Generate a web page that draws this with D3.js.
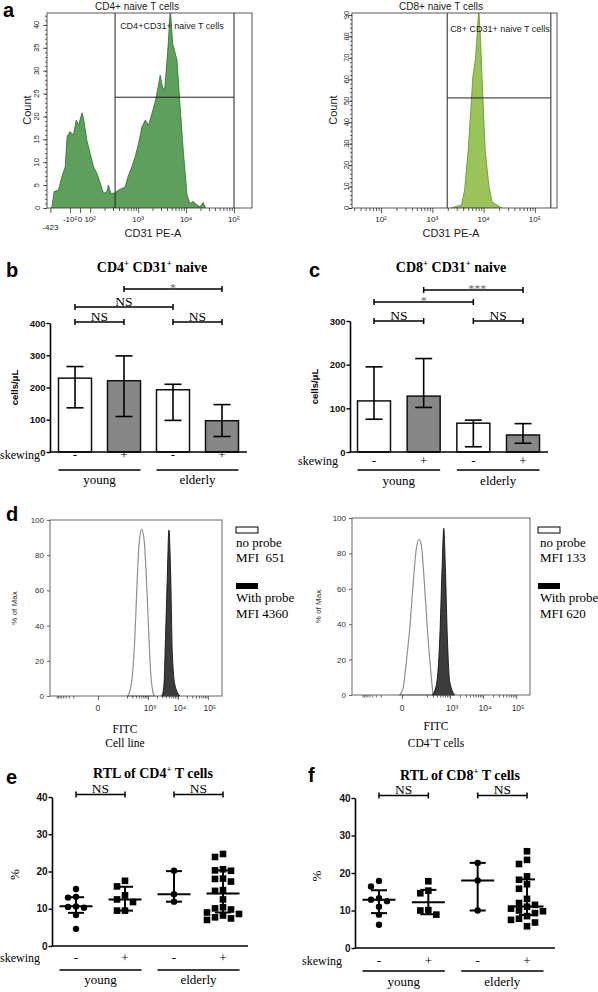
<!DOCTYPE html>
<html><head><meta charset="utf-8">
<script src="https://cdn.jsdelivr.net/npm/d3@7"></script>
<style>body{margin:0;background:#fff}svg{display:block}</style>
</head><body>
<svg id="c" width="598" height="992"></svg>
<script>
// ================= DATA =================
// Panel a: flow cytometry histograms (x = display decade units, y = count)
const cd4HistX = [1.20,1.25,1.34,1.41,1.48,1.52,1.58,1.65,1.71,1.76,1.83,1.86,1.93,2.00,2.07,2.14,2.21,2.28,2.35,2.38,2.43,2.50,2.59,2.73,2.79,2.87,2.94,3.01,3.08,3.15,3.22,3.29,3.35,3.42,3.46,3.52,3.56,3.63,3.67,3.72,3.81,3.88,3.94,4.02,4.08,4.15,4.22,4.29,4.36,4.40];
const cd4HistY = [0,3.6,3.9,6.8,9.0,15.6,16.7,15.9,19.2,18.1,20.8,19.6,14.8,11.9,9.0,7.6,5.4,3.2,3.6,5.0,3.2,3.2,3.9,4.6,6.8,9.0,11.2,14.1,17.7,19.2,18.1,20.7,22.9,26.5,29.0,25.8,26.5,36.0,43.5,36.0,32.3,21.4,12.7,2.8,1.0,1.4,0.7,0.3,1.2,0];
const cd8HistX = [3.38,3.40,3.57,3.63,3.70,3.75,3.79,3.84,3.88,3.905,3.94,3.99,4.03,4.10,4.16,4.23,4.28,4.35];
const cd8HistY = [0,0.3,1.4,8.4,27,45.7,61.2,69,83,93,78.4,48.5,27,10.7,2.9,1.9,1.0,0];
const cd4AxisTicks = [1.17,1.58,1.79,2,3,4,5];
const cd4AxisLabels = ["-423","-10²","0","10²","10³","10⁴","10⁵"];
const cd8AxisTicks = [2,3,4,5];
const cd8AxisLabels = ["10²","10³","10⁴","10⁵"];
const cd4Gate = [2.52, 5.0, 24.2];   // x-from, x-to, count threshold
const cd8Gate = [3.29, 5.31, 51.3];

// Panels b, c: bar charts (cells/µL)
const groups = ["young-","young+","elderly-","elderly+"];
const skewLabels = ["-","+","-","+"];
const ageLabels = ["young","elderly"];
const cd4Mean = [229, 221, 193, 97];
const cd4Hi   = [265, 298, 210, 147];
const cd4Lo   = [137, 110, 98, 48];
const cd8Mean = [117, 128, 66, 39];
const cd8Hi   = [195, 214, 73, 65];
const cd8Lo   = [75, 102, 12, 20];
const cd4Sig = [[0,1,"NS"],[2,3,"NS"],[0,2,"NS"],[1,3,"*"]];
const cd8Sig = [[0,1,"NS"],[2,3,"NS"],[0,2,"*"],[1,3,"***"]];

// Panel d: probe histograms (% of max)
const cellNoX = [2.30,2.344,2.456,2.567,2.644,2.711,2.79,2.867,2.933,3.011,3.089,3.178,3.22];
const cellNoY = [0,0.6,8.1,34.7,66.9,87.7,94.7,89.6,72.6,42.2,13.8,1.5,0];
const cellPrX = [3.45,3.478,3.533,3.589,3.644,3.70,3.756,3.811,3.90,4.067];
const cellPrY = [0,0.6,6.3,34.7,66.9,94.3,70.6,25.2,6.3,0];
const tcNoX = [1.476,1.576,1.676,1.779,1.879,1.979,2.06,2.13,2.212,2.312,2.415,2.485];
const tcNoY = [0,3.8,18.8,37.7,62.1,82.9,88,84.7,65.9,37.7,13.2,0];
const tcPrX = [2.455,2.585,2.688,2.758,2.809,2.858,2.918,2.991,3.142];
const tcPrY = [0,5.6,32,71.6,94.2,71.6,32,7.5,0];
const cellAxisTicks = [1.333,3,4,5];
const tcAxisTicks = [1.545,3,4,5];
const fitcLabels = ["0","10³","10⁴","10⁵"];
const cellMFI = ["651","4360"];
const tcMFI = ["133","620"];

// Panels e, f: RTL scatter (%)
const e1 = [15.3,13.2,13.0,10.6,10.5,10.3,8.3,4.6];
const e2 = [17.5,16.0,13.6,12.5,11.8,9.5,9.5];
const e3 = [20.2,13.9,11.9];
const e4 = [24.7,23.9,20.6,20.3,20.2,18.1,18.0,17.3,15.0,14.8,12.5,10.4,10.1,9.8,9.0,8.6,8.2,7.7,7.4,7.0];
const eMed = [10.7,12.5,13.9,14.1];
const eHi  = [13.1,15.9,20.1,20.3];
const eLo  = [8.9,9.5,11.9,9.0];
const f1 = [17.9,16.4,13.3,12.9,12.5,11.0,8.9,6.2];
const f2 = [17.8,15.3,14.6,10.1,10.0,8.9];
const f3 = [22.7,18.0,10.0];
const f4 = [25.8,23.5,22.4,19.1,18.2,17.0,15.8,13.1,12.0,11.5,11.0,10.5,10.0,9.8,9.3,8.5,7.8,7.5,6.8,5.8];
const fMed = [12.9,12.2,18.0,11.1];
const fHi  = [15.4,15.5,22.7,18.3];
const fLo  = [9.3,9.0,10.0,8.8];
const rtlSig = [[0,1,"NS"],[2,3,"NS"]];

// ================= DRAWING =================
const svg = d3.select("#c");
svg.append("rect").attr("width",598).attr("height",992).attr("fill","#fff");
const defs = svg.append("defs");
const SANS = "'Liberation Sans', Arial, sans-serif";
const SERIF = "'Liberation Serif', 'Times New Roman', serif";

function txt(g, x, y, s, o={}) {
  const t = g.append("text").attr("x",x).attr("y",y).text(s)
    .attr("font-family", o.ff||SANS).attr("font-size", o.fs||10)
    .attr("text-anchor", o.anchor||"middle").attr("fill", o.fill||"#000")
    .style("white-space","pre");
  if (o.bold) t.attr("font-weight","bold");
  if (o.rot) t.attr("transform", `rotate(${o.rot},${x},${y})`);
  return t;
}
function supTxt(g, x, y, parts, o={}) {
  const fs = o.fs||10;
  const t = g.append("text").attr("x",x).attr("y",y)
    .attr("font-family", o.ff||SANS).attr("font-size", fs)
    .attr("text-anchor", o.anchor||"middle").attr("fill","#000").style("white-space","pre");
  if (o.bold) t.attr("font-weight","bold");
  let shifted = false;
  parts.forEach(([s,sup]) => {
    const ts = t.append("tspan").text(s);
    if (sup && !shifted) { ts.attr("dy", -0.42*fs).attr("font-size", fs*0.62); shifted = true; }
    else if (sup) { ts.attr("font-size", fs*0.62); }
    else if (shifted) { ts.attr("dy", 0.42*fs); shifted = false; }
  });
  return t;
}
function line(g,x1,y1,x2,y2,sw=1,c="#000"){
  return g.append("line").attr("x1",x1).attr("y1",y1).attr("x2",x2).attr("y2",y2)
    .attr("stroke",c).attr("stroke-width",sw);
}
function logMinor(decades, lo, hi){
  const out=[];
  decades.forEach(n=>{ for(let k=2;k<=9;k++){ const v=n+Math.log10(k); if(v>lo&&v<hi) out.push(v);} });
  return out;
}

// ---------- panel a ----------
function flow(o){
  const g = svg.append("g");
  const x = d3.scaleLinear().domain(o.xDom).range([o.L,o.R]);
  const y = d3.scaleLinear().domain([0,o.yTop]).range([o.B,o.T]);
  defs.append("clipPath").attr("id",o.id).append("rect")
    .attr("x",o.L).attr("y",o.T).attr("width",o.R-o.L).attr("height",o.B-o.T);
  g.append("path").datum(d3.zip(o.hx,o.hy)).attr("clip-path",`url(#${o.id})`)
    .attr("d", d3.area().x(d=>x(d[0])).y0(y(0)).y1(d=>y(d[1])))
    .attr("fill",o.fill).attr("stroke",o.stroke).attr("stroke-width",0.9);
  line(g,x(o.gate[0]),o.T,x(o.gate[0]),o.B,1,"#222");
  line(g,x(o.gate[1]),o.T,x(o.gate[1]),o.B,1,"#222");
  line(g,x(o.gate[0]),y(o.gate[2]),x(o.gate[1]),y(o.gate[2]),1,"#222");
  g.append("rect").attr("x",o.L).attr("y",o.T).attr("width",o.R-o.L).attr("height",o.B-o.T)
    .attr("fill","none").attr("stroke","#444").attr("stroke-width",0.9);
  const style = s => { s.select(".domain").remove(); s.selectAll(".tick line").attr("stroke","#333").attr("stroke-width",0.8); };
  g.append("g").attr("transform",`translate(${o.L},0)`)
    .call(d3.axisLeft(y).tickValues(d3.range(0,o.yTop,o.yMinor)).tickSize(2).tickFormat("")).call(style);
  const yMaj = d3.range(0,o.yTop,o.yMajor);
  g.append("g").attr("transform",`translate(${o.L},0)`)
    .call(d3.axisLeft(y).tickValues(yMaj).tickSize(4).tickFormat("")).call(style);
  yMaj.forEach(v => txt(g, o.L-o.yLabOff, y(v), String(v), {fs:7.5, rot:-90, fill:"#222"}));
  g.append("g").attr("transform",`translate(0,${o.B})`)
    .call(d3.axisBottom(x).tickValues(o.minor).tickSize(3).tickFormat("")).call(style);
  g.append("g").attr("transform",`translate(0,${o.B})`)
    .call(d3.axisBottom(x).tickValues(o.ticks).tickSize(5).tickFormat("")).call(style);
  o.ticks.forEach((t,i)=> txt(g, x(t), o.B+14+(i===0&&o.lowFirst?8:0), o.labels[i], {fs:8, fill:"#222"}));
  txt(g, o.titleX, 10, o.title, {fs:10, fill:"#222"});
  txt(g, o.gateLabX, o.gateLabY, o.gateLab, {fs:9, fill:"#222"});
  txt(g, o.countX, 110, "Count", {fs:11, rot:-90, fill:"#222"});
  txt(g, (o.L+o.R)/2 + o.xlabShift, 237, "CD31 PE-A", {fs:11, fill:"#222"});
}
flow({id:"ca1", L:47, R:252, T:13, B:208, xDom:[1.10,5.375], yTop:42.6, yMinor:1, yMajor:5,
  hx:cd4HistX, hy:cd4HistY, fill:"#5e9f5c", stroke:"#2f7a34", gate:cd4Gate,
  ticks:cd4AxisTicks, labels:cd4AxisLabels, minor:logMinor([2,3,4],2,5.3), lowFirst:true,
  yLabOff:7.5, title:"CD4+ naive T cells", titleX:137, gateLab:"CD4+CD31+ naive T cells",
  gateLabX:172, gateLabY:29, countX:31, xlabShift:3.5});
flow({id:"ca2", L:352, R:557, T:13, B:208, xDom:[1.435,5.43], yTop:90.9, yMinor:2, yMajor:10,
  hx:cd8HistX, hy:cd8HistY, fill:"#9ac45a", stroke:"#6b9a2f", gate:cd8Gate,
  ticks:cd8AxisTicks, labels:cd8AxisLabels, minor:logMinor([1,2,3,4],1.45,5.4), lowFirst:false,
  yLabOff:3, title:"CD8+ naive T cells", titleX:441, gateLab:"C8+ CD31+ naive T cells",
  gateLabX:500, gateLabY:32, countX:337, xlabShift:-3.5});

// ---------- shared bottom group labels ----------
function groupLabels(g, x, o){
  txt(g, o.skewX, o.skewY, "skewing", {ff:SERIF, fs:12, anchor:"start"});
  groups.forEach((k,i)=> txt(g, x(k), o.skewY, skewLabels[i], {ff:SERIF, fs:13}));
  [[0,1],[2,3]].forEach(([a,b],j)=>{
    const x1 = x(groups[a])-16.5, x2 = x(groups[b])+16.5;
    line(g,x1,o.ulY,x2,o.ulY,1.3);
    txt(g,(x1+x2)/2,o.ageY,ageLabels[j],{ff:SERIF, fs:13});
  });
}
function brackets(g, x, sig, yTop, offs){
  const placed = [];
  const sorted = sig.slice().sort((a,b)=>(a[1]-a[0])-(b[1]-b[0]));
  sorted.forEach(s=>{
    let lev = 0;
    while (placed.some(p=>p.lev===lev && s[0]<p.s[1] && p.s[0]<s[1])) lev++;
    placed.push({s,lev});
    const yy = yTop - offs[lev];
    const x1 = x(groups[s[0]]), x2 = x(groups[s[1]]);
    line(g,x1,yy,x2,yy,1.5); line(g,x1,yy-3,x1,yy+3,1.5); line(g,x2,yy-3,x2,yy+3,1.5);
    if (s[2]==="NS") txt(g,(x1+x2)/2,yy-1.5,"NS",{ff:SERIF, fs:13.5});
    else txt(g,(x1+x2)/2 + (s[2].length>1?4:0),yy+2.5,s[2],{ff:SERIF, fs:12, fill:"#6e6e6e"});
  });
}
function leftAxis(g, y, L, vals, fs){
  const ax = g.append("g").attr("transform",`translate(${L},0)`)
    .call(d3.axisLeft(y).tickValues(vals).tickSize(3.5).tickSizeOuter(0).tickPadding(1));
  ax.select(".domain").attr("stroke-width",1.6);
  ax.selectAll(".tick line").attr("stroke-width",1.4);
  ax.selectAll("text").attr("font-family",SANS).attr("font-weight","bold").attr("font-size",fs).attr("fill","#111");
}

// ---------- panels b, c ----------
function barPanel(o){
  const g = svg.append("g");
  const x = d3.scalePoint().domain(groups).range([o.c0,o.c1]);
  const y = d3.scaleLinear().domain([0,o.yMax]).range([o.B,o.T]);
  const bw = 33;
  groups.forEach((k,i)=>{
    g.append("rect").attr("x",x(k)-bw/2).attr("y",y(o.mean[i])).attr("width",bw)
      .attr("height",y(0)-y(o.mean[i])).attr("fill", i%2 ? "#878787" : "#fff")
      .attr("stroke","#111").attr("stroke-width",1.5);
    line(g,x(k),y(o.lo[i]),x(k),y(o.hi[i]),1.6);
    line(g,x(k)-8.5,y(o.lo[i]),x(k)+8.5,y(o.lo[i]),1.6);
    line(g,x(k)-8.5,y(o.hi[i]),x(k)+8.5,y(o.hi[i]),1.6);
  });
  line(g,o.L,o.B,o.xEnd,o.B,1.6);
  leftAxis(g, y, o.L, d3.range(0,o.yMax+1,100), 9.5);
  txt(g, o.yLabX, (o.T+o.B)/2, "cells/μL", {fs:9.5, bold:true, rot:-90});
  supTxt(g, o.titleX, 272, o.title, {ff:SERIF, fs:14, bold:true});
  txt(g, o.letterX, 277, o.letter, {fs:20, bold:true, anchor:"start"});
  brackets(g, x, o.sig, o.T, o.offs);
  groupLabels(g, x, o);
}
barPanel({L:50, xEnd:247, B:452, T:323, yMax:400, c0:75, c1:222, mean:cd4Mean, hi:cd4Hi, lo:cd4Lo,
  yLabX:18, titleX:152, title:[["CD4"],["+",1],[" CD31"],["+",1],[" naive"]], letter:"b", letterX:6,
  sig:cd4Sig, offs:[1,16,34], skewX:0, skewY:459, ulY:470, ageY:484});
barPanel({L:350, xEnd:548, B:452, T:321, yMax:300, c0:374, c1:523, mean:cd8Mean, hi:cd8Hi, lo:cd8Lo,
  yLabX:318, titleX:451, title:[["CD8"],["+",1],[" CD31"],["+",1],[" naive"]], letter:"c", letterX:309,
  sig:cd8Sig, offs:[0,19,31], skewX:298, skewY:465, ulY:470, ageY:485});

// ---------- panel d ----------
function probePanel(o){
  const g = svg.append("g");
  const x = d3.scaleLinear().domain(o.xDom).range([o.L,o.R]);
  const y = d3.scaleLinear().domain([0,100]).range([o.B,o.T]);
  const area = d3.area().curve(d3.curveMonotoneX).x(d=>x(d[0])).y0(y(0)).y1(d=>y(d[1]));
  g.append("path").datum(d3.zip(o.noX,o.noY)).attr("d",area).attr("fill","none")
    .attr("stroke","#8f8f8f").attr("stroke-width",1.2);
  g.append("path").datum(d3.zip(o.prX,o.prY)).attr("d",area).attr("fill","#3c3c3c")
    .attr("stroke","#111").attr("stroke-width",0.9);
  g.append("rect").attr("x",o.L).attr("y",o.T).attr("width",o.R-o.L).attr("height",o.B-o.T)
    .attr("fill","none").attr("stroke","#555").attr("stroke-width",0.9);
  const style = s => { s.select(".domain").remove(); s.selectAll(".tick line").attr("stroke","#444").attr("stroke-width",0.8); };
  const ay = g.append("g").attr("transform",`translate(${o.L},0)`)
    .call(d3.axisLeft(y).tickValues(d3.range(0,101,20)).tickSize(3).tickPadding(3)).call(style);
  ay.selectAll("text").attr("font-family",SANS).attr("font-size",8).attr("fill","#333");
  const zero = o.ticks[0];
  const pos = logMinor([2,3,4],zero+0.6,5.0);
  const neg = logMinor([2],2,2.99).map(v => zero-(v-zero)*0.85).filter(v=>v>o.xDom[0]);
  g.append("g").attr("transform",`translate(0,${o.B})`)
    .call(d3.axisBottom(x).tickValues(pos.concat(neg)).tickSize(2.5).tickFormat("")).call(style);
  g.append("g").attr("transform",`translate(0,${o.B})`)
    .call(d3.axisBottom(x).tickValues(o.ticks).tickSize(4).tickFormat("")).call(style);
  o.ticks.forEach((t,i)=> txt(g, x(t)+(i?2:0), 711, fitcLabels[i], {fs:8.5, fill:"#333"}));
  txt(g, o.ylabX, (o.T+o.B)/2, "% of Max", {fs:8, rot:-90, fill:"#333"});
  txt(g, o.fitcX, o.fitcY, "FITC", {ff:SERIF, fs:11.5});
  supTxt(g, o.fitcX, 747, o.sub, {ff:SERIF, fs:11.5});
  g.append("rect").attr("x",o.legX).attr("y",527).attr("width",22).attr("height",6)
    .attr("fill","#fff").attr("stroke","#000").attr("stroke-width",1);
  txt(g, o.legX+o.legT, 547, "no probe", {ff:SERIF, fs:13, anchor:"start"});
  txt(g, o.legX+o.legT, 562, "MFI" + o.gap + o.mfi[0], {ff:SERIF, fs:13, anchor:"start"});
  g.append("rect").attr("x",o.legX).attr("y",583).attr("width",22).attr("height",6).attr("fill","#000");
  txt(g, o.legX+o.legT, 602, "With probe", {ff:SERIF, fs:13, anchor:"start"});
  txt(g, o.legX+o.legT, 618, "MFI " + o.mfi[1], {ff:SERIF, fs:13, anchor:"start"});
}
probePanel({L:50, R:222, T:520, B:696, xDom:[-0.267,5.47], noX:cellNoX, noY:cellNoY, prX:cellPrX, prY:cellPrY,
  ticks:cellAxisTicks, ylabX:17, fitcX:125, fitcY:733, sub:[["Cell line"]], legX:236, legT:0, mfi:cellMFI, gap:"  "});
probePanel({L:352, R:530, T:518, B:695, xDom:[0.03,5.42], noX:tcNoX, noY:tcNoY, prX:tcPrX, prY:tcPrY,
  ticks:tcAxisTicks, ylabX:321, fitcX:436, fitcY:730, sub:[["CD4"],["+",1],["T cells"]], legX:538, legT:2, mfi:tcMFI, gap:" "});
txt(svg, 6, 521, "d", {fs:20, bold:true, anchor:"start"});

// ---------- panels e, f ----------
function swarm(vals, y, step, minDist){
  const placed = [], off = new Array(vals.length);
  vals.map((v,i)=>i).sort((a,b)=>vals[b]-vals[a]).forEach(i=>{
    const py = y(vals[i]);
    for (const k of [0,-1,1,-2,2,-3,3]) {
      const ox = k*step;
      if (!placed.some(p=>Math.hypot(p.x-ox,p.y-py) < minDist)) { off[i]=ox; placed.push({x:ox,y:py}); break; }
    }
  });
  return off;
}
function rtlPanel(o){
  const g = svg.append("g");
  const x = d3.scalePoint().domain(groups).range([o.c0,o.c1]);
  const y = d3.scaleLinear().domain([0,40]).range([o.B,o.T]);
  o.sets.forEach((vals,i)=>{
    const cx = x(groups[i]);
    const off = swarm(vals, y, 8, 7);
    vals.forEach((v,j)=>{
      if (i%2===0) g.append("circle").attr("cx",cx+off[j]).attr("cy",y(v)).attr("r",3.2).attr("fill","#000");
      else g.append("rect").attr("x",cx+off[j]-3.3).attr("y",y(v)-3.3).attr("width",6.6).attr("height",6.6).attr("fill","#000");
    });
    line(g,cx-16.5,y(o.med[i]),cx+16.5,y(o.med[i]),2);
    line(g,cx,y(o.lo[i]),cx,y(o.hi[i]),2);
    line(g,cx-8,y(o.lo[i]),cx+8,y(o.lo[i]),2);
    line(g,cx-8,y(o.hi[i]),cx+8,y(o.hi[i]),2);
  });
  line(g,o.L,o.B,o.xEnd,o.B,1.6);
  leftAxis(g, y, o.L, d3.range(0,41,10), 10);
  txt(g, o.pctX, (o.T+o.B)/2+3, "%", {ff:SERIF, fs:13, rot:-90});
  supTxt(g, o.titleX, o.titleY, o.title, {ff:SERIF, fs:14, bold:true});
  txt(g, o.letterX, o.letterY, o.letter, {fs:20, bold:true, anchor:"start"});
  brackets(g, x, rtlSig, o.T, [2.5]);
  groupLabels(g, x, o);
}
rtlPanel({L:52, xEnd:248, B:946, T:797, c0:76, c1:223, sets:[e1,e2,e3,e4], med:eMed, hi:eHi, lo:eLo,
  pctX:19, titleX:153, titleY:778, title:[["RTL of CD4"],["+",1],[" T cells"]], letter:"e", letterX:6, letterY:784,
  skewX:0, skewY:962, ulY:970, ageY:984});
rtlPanel({L:355, xEnd:555, B:948, T:798, c0:379, c1:527, sets:[f1,f2,f3,f4], med:fMed, hi:fHi, lo:fLo,
  pctX:321, titleX:460, titleY:780, title:[["RTL of CD8"],["+",1],[" T cells"]], letter:"f", letterX:308, letterY:782,
  skewX:302, skewY:965, ulY:971, ageY:986});

txt(svg, 3, 17, "a", {fs:20, bold:true, anchor:"start"});
</script>
</body></html>
